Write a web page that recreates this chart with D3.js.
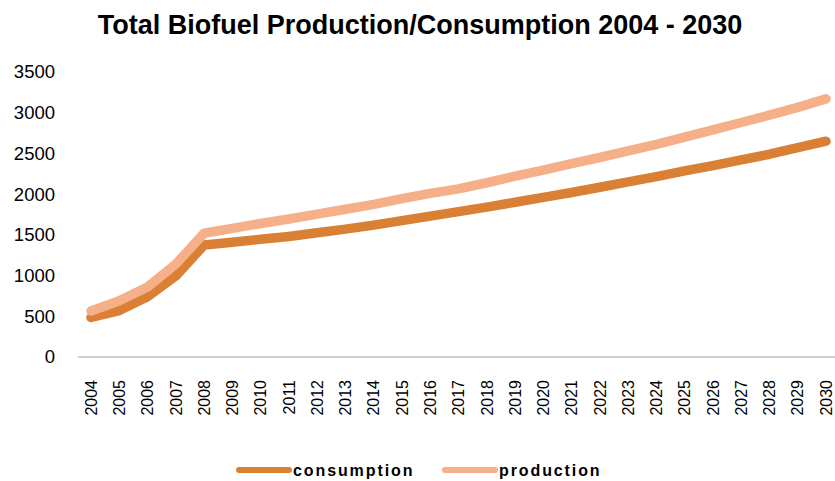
<!DOCTYPE html>
<html lang="en">
<head>
<meta charset="utf-8">
<title>Total Biofuel Production/Consumption</title>
<script src="https://cdn.jsdelivr.net/npm/d3@7"></script>
<style>
  body { margin: 0; background: #fff; }
  text { font-family: "Liberation Sans", Arial, sans-serif; fill: #000; }
</style>
</head>
<body>
<script>
// data
var years = [2004, 2005, 2006, 2007, 2008, 2009, 2010, 2011, 2012, 2013, 2014, 2015, 2016, 2017,
  2018, 2019, 2020, 2021, 2022, 2023, 2024, 2025, 2026, 2027, 2028, 2029, 2030];
var consumption = [485, 570, 740, 995, 1375, 1410, 1445, 1480, 1525, 1570, 1620, 1675, 1730, 1785,
  1840, 1900, 1960, 2020, 2085, 2150, 2215, 2285, 2350, 2420, 2490, 2570, 2650];
var production = [565, 690, 860, 1140, 1520, 1580, 1640, 1695, 1755, 1815, 1875, 1945, 2010, 2065,
  2140, 2220, 2295, 2375, 2450, 2530, 2610, 2700, 2790, 2880, 2970, 3065, 3170];
var yTicks = [0, 500, 1000, 1500, 2000, 2500, 3000, 3500];
var seriesNames = ["consumption", "production"];
var colors = ["#d98034", "#f5b089"];

var W = 835, H = 481;
var svg = d3.select("body").append("svg").attr("width", W).attr("height", H);

var x = d3.scalePoint().domain(years).range([91, 826]);
var y = d3.scaleLinear().domain([0, 3500]).range([357, 72]);

// title
svg.append("text").attr("x", 420).attr("y", 34).attr("text-anchor", "middle")
  .style("font-size", "27px").style("font-weight", "bold")
  .text("Total Biofuel Production/Consumption 2004 - 2030");

// y axis labels
svg.selectAll(".ylab").data(yTicks).enter().append("text")
  .attr("class", "ylab")
  .attr("x", 55).attr("y", function(d) { return y(d); })
  .attr("dy", "0.35em").attr("text-anchor", "end")
  .style("font-size", "18.5px")
  .text(function(d) { return d; });

// x axis line
svg.append("line").attr("x1", 78).attr("x2", 835).attr("y1", y(0)).attr("y2", y(0))
  .attr("stroke", "#a0a0a0").attr("stroke-width", 1.2);

// x labels, rotated
svg.selectAll(".xlab").data(years).enter().append("text")
  .attr("class", "xlab")
  .attr("transform", function(d) { return "translate(" + x(d) + ",380) rotate(-90)"; })
  .attr("dy", "0.36em").attr("text-anchor", "end")
  .style("font-size", "16px")
  .text(function(d) { return d; });

// lines
var line = d3.line()
  .x(function(d, i) { return x(years[i]); })
  .y(function(d) { return y(d); });

[consumption, production].forEach(function(vals, k) {
  svg.append("path").datum(vals)
    .attr("d", line)
    .attr("fill", "none")
    .attr("stroke", colors[k])
    .attr("stroke-width", 9.5)
    .attr("stroke-linecap", "round")
    .attr("stroke-linejoin", "round");
});

// legend
var legX = [237, 443];
var leg = svg.selectAll(".leg").data(seriesNames).enter().append("g")
  .attr("class", "leg")
  .attr("transform", function(d, i) { return "translate(" + legX[i] + ",470)"; });
leg.append("line").attr("x1", 2).attr("x2", 52).attr("y1", 0).attr("y2", 0)
  .attr("stroke", function(d, i) { return colors[i]; })
  .attr("stroke-width", 6).attr("stroke-linecap", "round");
leg.append("text").attr("x", 56).attr("dy", "0.35em")
  .style("font-size", "16px").style("font-weight", "bold").style("letter-spacing", "1.9px")
  .text(function(d) { return d; });
</script>
</body>
</html>
